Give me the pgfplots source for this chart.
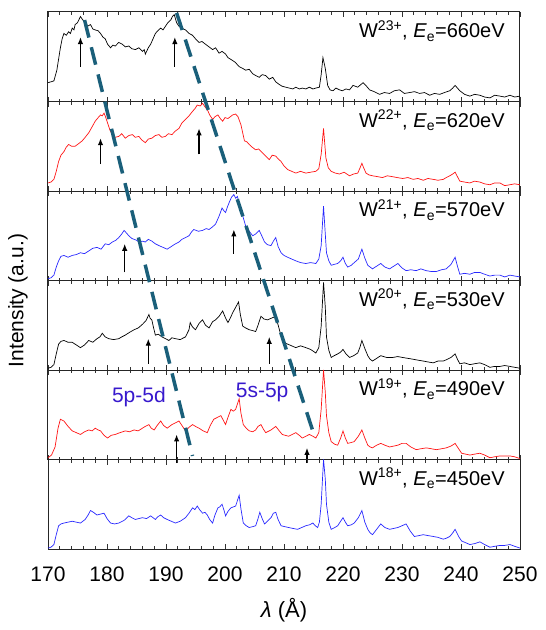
\documentclass[border=0pt]{standalone}
\usepackage{fontspec}
\setmainfont{Liberation Sans}
\usepackage{pgfplots}
\pgfplotsset{compat=1.18}
\usepgfplotslibrary{groupplots}
\usetikzlibrary{arrows.meta}
\definecolor{dashc}{RGB}{26,95,122}
\definecolor{lblc}{RGB}{55,25,205}
\definecolor{bl}{RGB}{40,40,255}
\definecolor{rd}{RGB}{255,20,20}
\newcommand{\lab}[2]{\node[anchor=base east,font=\fontsize{20}{24}\selectfont] at (rel axis cs:0.975,0.71) {W\textsuperscript{#1}, \textit{E}\textsubscript{e}=#2eV};}
\tikzset{arr/.style={-{Latex[length=7pt,width=5.5pt]},line width=1.3pt,black}}
\begin{document}
\begin{tikzpicture}
\begin{groupplot}[
 group style={group size=1 by 6, vertical sep=0pt, xticklabels at=edge bottom},
 width=472pt, height=89.5pt, scale only axis,
 xmin=170, xmax=250, ymin=0, ymax=100,
 ytick=\empty,
 xtick={170,180,...,250}, minor x tick num=4,
 xtick pos=both,
 major tick length=5pt, minor tick length=3pt,
 tick align=inside,
 axis line style={line width=1pt, black!85},
 every tick/.style={black!80, line width=0.8pt},
 clip=false,
 /pgf/number format/assume math mode=true,
 /pgf/number format/1000 sep={},
 tick label style={font=\fontsize{21}{24}\selectfont},
 xticklabel style={yshift=-14pt},
]
% ---------- W23+
\nextgroupplot
\addplot[black, line width=0.7pt] table {
170 21
170.5 22
171 23
171.5 35
172.1 60
172.4 70
172.7 76
173.1 74
173.5 78
173.8 76
174.1 82
174.4 80
174.6 86
175 88
175.5 95
175.9 91
176.3 90
176.7 84
177.2 86
177.6 81
178 80
178.5 79
178.9 76
179.3 72
179.7 70
180.1 64
180.6 60
181 63
181.4 62
182 66
182.6 64
183.1 61
183.7 62
184.2 59
184.8 58
185.4 60
186 56
186.3 58
186.5 53
187 60
187.4 64
187.8 70
188.2 76
188.6 79
189.1 82
189.5 80
189.9 84
190.3 88
190.8 91
191.1 95
191.4 97
191.8 88
192.2 84
192.7 82
193.3 80
193.9 76
194.5 74
195 70
195.6 66
196.1 67
196.7 64
197.3 61
197.9 58
198.4 60
199 54
199.5 56
200.1 53
200.5 49
201 47
201.7 44
202.4 39
203 37
203.5 35
204.1 36
204.7 31
205.2 29
205.8 27
206.3 30
206.9 29
207.5 25
208.1 27
208.6 22
209.2 19
209.7 17
210.3 16
210.9 15
211.5 14
212 16
212.6 14
213.1 15
213.7 14
214.3 16
214.9 14
215.4 15
216 16
216.3 30
216.6 49
217 37
217.4 18
217.8 13
218.3 12
218.8 15
219.4 13
219.9 12
220.5 14
221.1 13
221.7 18
222.5 16
223.4 21
224 17
224.5 13
225.3 11
226.2 8
227 10
227.9 9
228.7 12
229.6 13
230.4 9
231.3 10
232.1 11
233 9
233.8 10
234.7 7
235.5 9
236.4 8
237.2 10
238.1 12
238.6 15
239 18
239.4 15
239.8 12
240.6 8
241.5 6
242.3 8
243.2 7
244 5
244.9 4
245.7 7
246.6 6
247.4 5
248.3 7
249.1 5
250 6
};
\addplot[arr] coordinates {(175.5,39) (175.5,72)};
\addplot[arr] coordinates {(191.5,39) (191.5,72)};
\lab{23+}{660}
% ---------- W22+
\nextgroupplot
\addplot[rd, line width=0.7pt] table {
170 9
170.5 10
171 13
171.4 22
171.8 33
172.2 40
172.7 44
173.1 49
173.5 52
174 50
174.6 50
175.2 53
175.8 56
176.3 60
176.9 65
177.5 72
178 78
178.5 82
178.9 85
179.2 84
179.5 87
179.8 82
180.1 76
180.5 68
180.9 63
181.4 60
182 61
182.5 64
183.1 59
183.7 62
184.3 63
184.8 60
185.4 61
185.9 57
186.5 54
187 58
187.6 59
188.2 62
188.8 63
189.3 60
189.9 61
190.4 64
191 63
191.6 67
192.2 70
192.7 76
193.3 80
193.9 84
194.5 89
194.9 92
195.3 96
195.8 95
196.2 98
196.6 94
197 91
197.4 85
197.9 80
198.3 83
198.8 85
199.2 81
199.6 78
200 82
200.5 81
200.9 83
201.3 85
201.8 86
202.2 83
202.7 74
203.3 56
203.7 55
204.1 52
204.6 49
205.2 46
205.7 47
206.3 43
206.9 39
207.5 35
208 40
208.6 39
209 36
209.5 33
210 28
210.6 24
211.3 22
212 20
212.8 22
213.7 20
214.5 21
215.4 22
215.9 25
216.3 41
216.7 70
217.1 37
217.5 26
218 22
218.7 20
219.4 19
220.2 21
221.1 17
221.8 19
222.5 20
222.9 26
223.2 31
223.5 26
223.9 20
224.4 18
225 17
225.9 16
226.7 15
227.5 17
228.4 16
229.2 15
230.1 14
231 15
231.9 13
232.7 14
233.6 12
234.4 14
235.3 13
236.1 12
237 13
237.5 15
238.1 17
238.6 19
239 21
239.4 16
239.8 11
240.6 10
241.5 9
242.3 11
243.2 10
244 8
244.9 7
245.7 9
246.6 9
247.4 6
248.3 7
249.1 8
250 7
};
\addplot[arr] coordinates {(178.9,30) (178.9,59)};
\addplot[arr] coordinates {(195.6,41) (195.6,70)};
\lab{22+}{620}
% ---------- W21+
\nextgroupplot
\addplot[bl, line width=0.7pt] table {
170 2
170.5 3
171 6
171.4 15
171.8 22
172.2 27
172.7 28
173.4 26
174.1 28
174.8 29
175.5 31
176.2 30
176.9 33
177.6 36
178.3 37
179 35
179.7 41
180.3 40
180.9 43
181.5 45
182 48
182.5 52
182.9 56
183.3 53
183.7 50
184.2 47
184.6 46
185 45
185.4 43
186 44
186.5 43
187 46
187.6 44
188.2 41
188.8 39
189.5 37
190.2 35
190.9 38
191.6 41
192.2 43
192.7 46
193.3 48
193.9 50
194.3 54
194.7 57
195.5 55
196.2 56
196.8 58
197.3 57
197.9 60
198.4 63
199 72
199.5 81
199.8 78
200.1 76
200.4 82
200.7 87
201.1 93
201.5 96
201.8 92
202.1 94
202.4 86
202.7 80
203.1 70
203.5 61
204.1 55
204.7 50
205.2 52
205.8 56
206.3 49
206.7 43
207.2 40
207.8 39
208.2 44
208.6 48
209 38
209.5 31
210 28
210.6 26
211.3 24
212 22
212.8 20
213.7 19
214.5 20
215.4 19
215.9 24
216.3 39
216.7 83
217.2 31
217.6 22
218 17
218.5 18
219.1 19
219.6 22
220 26
220.4 19
220.8 15
221.4 17
221.9 20
222.6 24
223.2 35
223.7 25
224.2 17
224.6 15
225 13
225.7 16
226.4 19
227.1 15
227.9 13
228.6 16
229.3 19
230 14
230.7 11
231.5 12
232.4 11
233.2 13
234.1 11
235 10
235.8 10
236.7 12
237.5 13
238.3 18
239 26
239.4 16
239.8 7
240.6 8
241.5 7
242.3 9
243.2 9
244 7
244.9 5
245.7 6
246.6 6
247.4 4
248.3 6
249.1 5
250 4
};
\addplot[arr] coordinates {(183,9) (183,41)};
\addplot[arr] coordinates {(201.5,30) (201.5,57)};
\lab{21+}{570}
% ---------- W20+
\nextgroupplot
\addplot[black, line width=0.7pt] table {
170 2
170.5 3
171 6
171.4 18
171.8 29
172.2 32
172.7 33
173.4 31
174.1 31
174.8 28
175.5 25
176.2 28
176.9 33
177.6 31
178.3 35
178.8 37
179.2 41
179.7 37
180.3 35
181.1 34
182 35
182.5 37
183.1 39
183.8 42
184.6 45
185.3 47
186 51
186.6 55
187.1 62
187.3 58
187.6 56
187.9 47
188.2 39
188.7 40
189.3 37
189.9 35
190.5 33
191 36
191.6 35
192.4 34
193.3 37
193.9 45
194.1 53
194.5 48
195 45
195.6 52
196.2 56
196.7 50
197.3 47
197.9 54
198.4 56
199 60
199.6 66
200.1 58
200.5 53
200.9 58
201.3 64
201.8 70
202.3 76
202.6 62
203 49
203.5 47
204.1 45
204.7 44
205.2 43
205.6 50
206.1 60
206.6 57
207.2 56
207.9 58
208.6 60
209.1 48
209.7 33
210.2 30
210.6 29
211.3 27
212 25
212.8 27
213.7 25
214.5 23
215.4 19
215.9 25
216.3 49
216.7 98
217 70
217.2 37
217.6 22
218 14
218.5 16
219.1 18
219.6 20
220 23
220.5 18
221.1 14
221.8 16
222.5 19
222.9 26
223.2 33
223.7 24
224.2 16
224.6 12
225 10
225.7 13
226.4 16
227.4 14
228.4 14
229.3 15
230.1 14
231 13
231.9 12
232.7 11
233.6 10
234.4 9
235.3 8
236.1 10
237 10
237.7 12
238.3 14
239 18
239.4 12
239.8 7
240.6 8
241.5 6
242.3 7
243.2 8
244 6
244.9 3
245.7 4
246.6 4
247.4 5
248.3 4
249.1 3
250 2
};
\addplot[arr] coordinates {(187,7) (187,35)};
\addplot[arr] coordinates {(207.5,7) (207.5,37)};
\lab{20+}{530}
% ---------- W19+
\nextgroupplot
\addplot[rd, line width=0.7pt] table {
170 2
170.6 5
171.2 14
171.7 35
172.1 45
172.4 44
172.7 43
173.4 37
174.1 32
174.8 30
175.5 28
176.2 31
176.9 33
177.5 32
178 35
178.5 33
178.9 32
179.5 27
180.1 24
180.7 27
181.4 28
182.2 30
183.1 32
183.8 31
184.6 33
185.3 32
186 35
186.5 37
187.1 39
187.5 35
188 33
188.5 38
189.1 43
189.6 38
190.2 35
190.6 37
191 39
191.6 41
192.2 43
192.8 37
193.3 32
193.9 36
194.5 39
195 37
195.6 35
196.3 32
197 30
197.5 38
198.1 45
198.7 47
199.3 49
199.7 44
200.1 39
200.5 47
201 56
201.4 54
201.8 56
202.1 62
202.4 68
202.7 52
203.1 39
203.6 35
204.1 32
204.7 31
205.2 33
205.6 37
206.1 39
206.5 34
206.9 30
207.8 33
208.6 37
209.2 32
209.7 28
210.2 27
210.8 26
211.4 28
212 30
212.6 27
213.1 24
213.7 26
214.3 28
214.9 26
215.4 24
215.9 30
216.3 56
216.7 100
217 75
217.2 49
217.6 30
218 20
218.6 17
219.1 16
219.6 24
220 32
220.4 24
220.8 18
221.4 19
221.9 20
222.6 26
223.2 33
223.7 24
224.2 16
224.6 14
225 13
225.7 16
226.4 18
227.1 16
227.9 14
228.6 15
229.3 16
230 18
230.7 18
231.5 14
232.4 11
233.2 12
234.1 13
235 12
235.8 11
236.7 12
237.5 13
238.3 15
239 18
239.6 12
240.1 7
240.8 6
241.5 5
242.3 6
243.2 7
244 5
244.9 2
245.7 3
246.6 4
247.4 4
248.3 4
249.1 3
250 1
};
\addplot[arr] coordinates {(191.8,-4) (191.8,28)};
\addplot[arr] coordinates {(213.9,-4) (213.9,13)};
\lab{19+}{490}
\node[text=lblc,font=\fontsize{21}{24}\selectfont] at (axis cs:185.4,70) {5p-5d};
\node[text=lblc,font=\fontsize{21}{24}\selectfont] at (axis cs:206.3,75) {5s-5p};
% ---------- W18+
\nextgroupplot[xlabel={\textit{λ} (Å)}, xlabel style={font=\fontsize{22}{26}\selectfont, yshift=-10pt}]
\addplot[bl, line width=0.7pt] table {
170 1
170.5 2
171 5
171.4 16
171.8 26
172.2 28
172.7 29
173.4 30
174.1 31
174.8 30
175.5 29
175.9 31
176.3 33
176.8 38
177.2 43
177.7 41
178.3 38
178.9 39
179.5 40
180 34
180.6 29
181.3 28
182 29
182.9 32
183.7 37
184.2 35
184.8 33
185.4 34
186 35
186.7 34
187.4 37
187.8 35
188.2 33
188.6 36
189.1 38
189.6 35
190.2 33
190.9 31
191.6 29
192.4 31
193.3 35
193.9 40
194.5 46
194.9 44
195.3 48
195.7 44
196.2 40
196.6 41
197 38
197.4 33
197.9 29
198.3 38
198.8 46
199.1 47
199.5 50
199.8 44
200.1 37
200.5 42
201 46
201.4 47
201.8 48
202.1 54
202.4 60
202.7 45
203.1 29
203.6 26
204.1 24
204.7 25
205.2 26
205.6 34
205.9 41
206.3 34
206.7 28
207.2 31
207.8 35
208.2 40
208.6 41
209 33
209.5 26
210.1 25
210.8 24
211.5 23
212.3 22
213 24
213.7 26
214.3 27
214.9 29
215.3 26
215.7 24
216 30
216.3 50
216.7 100
217 78
217.2 50
217.6 30
218 22
218.6 24
219.1 26
219.6 31
220 35
220.4 30
220.8 26
221.4 27
221.9 29
222.6 35
223.2 43
223.7 30
224.2 22
224.6 18
225 16
225.7 22
226.4 28
227.1 24
227.9 22
228.6 23
229.3 24
230 26
230.7 28
231.4 20
232.1 14
232.9 15
233.6 16
234.4 15
235.3 14
236.1 13
237 11
237.5 12
238.1 14
238.6 18
239 22
239.6 14
240.1 9
240.8 7
241.5 5
242.3 6
243.2 8
244 5
244.9 2
245.7 3
246.6 4
247.4 4
248.3 5
249.1 3
250 1
};
\lab{18+}{450}
\addplot[dashc, line width=3.5pt, dash pattern=on 18pt off 10pt] coordinates {(176.2,591) (194.5,104)};
\addplot[dashc, line width=3.5pt, dash pattern=on 18pt off 10pt] coordinates {(191.8,599) (215.2,125.5)};
\end{groupplot}
\node[rotate=90,font=\fontsize{21}{24}\selectfont] at ([xshift=-30pt,yshift=-20pt]group c1r4.north west) {Intensity (a.u.)};
\pgfresetboundingbox
\path[use as bounding box] ([xshift=-48pt,yshift=12pt]group c1r1.north west) rectangle ([xshift=26pt,yshift=-81pt]group c1r6.south east);
\end{tikzpicture}
\end{document}
